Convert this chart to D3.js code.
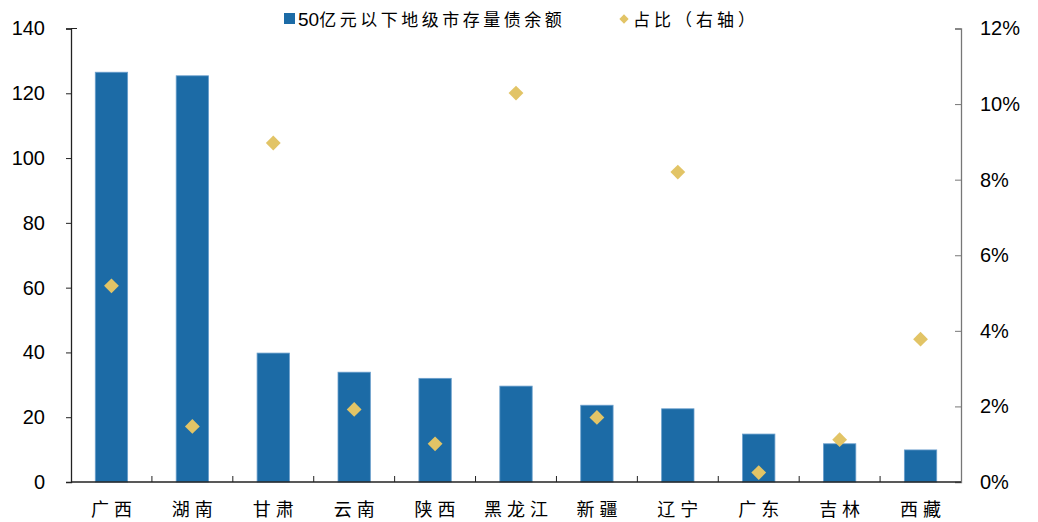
<!DOCTYPE html>
<html>
<head>
<meta charset="utf-8">
<script src="https://cdn.jsdelivr.net/npm/d3@7"></script>
<style>
  html, body { margin: 0; padding: 0; background: #fff; }
  svg { display: block; }
  .num { font-family: "Liberation Sans", Arial, sans-serif; font-size: 20px; fill: #000; }
  .cjk { font-family: "Noto Sans CJK SC", sans-serif; font-size: 18px; fill: #000; }
</style>
</head>
<body>
<svg id="chart" width="1038" height="522"></svg>
<script>
// Provinces
const categories = ["广西", "湖南", "甘肃", "云南", "陕西", "黑龙江", "新疆", "辽宁", "广东", "吉林", "西藏"];
// Outstanding debt of prefecture-level cities under 5 bn yuan (亿元)
const debtValues = [126.5, 125.4, 39.8, 33.9, 32.0, 29.6, 23.7, 22.6, 14.8, 11.8, 9.9];
// Share, in percent (right axis)
const shareValues = [5.19, 1.47, 8.97, 1.92, 1.01, 10.29, 1.71, 8.2, 0.25, 1.12, 3.78];

const leftTicks = [0, 20, 40, 60, 80, 100, 120, 140];
const rightTicks = [0, 2, 4, 6, 8, 10, 12];
const seriesNames = ["50亿元以下地级市存量债余额", "占比（右轴）"];

const barColor = "#1c6ba6";
const barEdge = "#6a9fcc";
const dotColor = "#e2c466";

const svg = d3.select("#chart");
const m = { left: 71, right: 961, top: 28.5, bottom: 482 };

const x = d3.scaleBand().domain(categories).range([m.left, m.right]).paddingInner(0.6).paddingOuter(0.3);
const xOuter = d3.scaleBand().domain(categories).range([m.left, m.right]);
const yL = d3.scaleLinear().domain([0, 140]).range([m.bottom, m.top]);
const yR = d3.scaleLinear().domain([0, 12]).range([m.bottom, m.top]);

// Bars
svg.append("g").selectAll("rect").data(categories).join("rect")
  .attr("x", d => x(d))
  .attr("width", x.bandwidth())
  .attr("y", (d, i) => yL(debtValues[i]))
  .attr("height", (d, i) => yL(0) - yL(debtValues[i]))
  .attr("fill", barColor)
  .attr("stroke", barEdge)
  .attr("stroke-width", 0.8);

// Left axis
const gl = svg.append("g").attr("transform", `translate(${m.left},0)`)
  .call(d3.axisLeft(yL).tickValues(leftTicks).tickSize(5).tickPadding(21).tickFormat(d3.format("d")));
gl.select(".domain").attr("stroke", "#222").attr("stroke-width", 1.3);
gl.selectAll(".tick line").attr("stroke", "#222");
gl.selectAll(".tick text").attr("class", "num").attr("font-family", null).attr("font-size", null);
gl.append("line").attr("x1", 0).attr("x2", 6).attr("y1", yL(140)).attr("y2", yL(140)).attr("stroke", "#222");

// Right axis
const gr = svg.append("g").attr("transform", `translate(${m.right},0)`)
  .call(d3.axisRight(yR).tickValues(rightTicks).tickSize(-6).tickPadding(19).tickFormat(d => d + "%"));
gr.select(".domain").attr("stroke", "#777").attr("stroke-width", 1.3);
gr.selectAll(".tick line").attr("stroke", "#777");
gr.selectAll(".tick text").attr("class", "num").attr("font-family", null).attr("font-size", null);

// Category axis
const gx = svg.append("g").attr("transform", `translate(0,${m.bottom})`);
gx.append("line").attr("x1", m.left).attr("x2", m.right).attr("stroke", "#222").attr("stroke-width", 1.3);
gx.selectAll("line.sep").data(categories.slice(1)).join("line")
  .attr("class", "sep")
  .attr("x1", d => xOuter(d)).attr("x2", d => xOuter(d))
  .attr("y1", 0).attr("y2", -6).attr("stroke", "#222");
const labelSpacing = 5;
gx.selectAll("text").data(categories).join("text")
  .attr("class", "cjk")
  .attr("x", d => x(d) + x.bandwidth() / 2 + labelSpacing / 2)
  .attr("y", 34)
  .attr("text-anchor", "middle")
  .style("letter-spacing", labelSpacing + "px")
  .text(d => d);

// Share markers
const diamond = d3.symbol().type(d3.symbolDiamond2).size(140);
svg.append("g").selectAll("path").data(categories).join("path")
  .attr("transform", (d, i) => `translate(${x(d) + x.bandwidth() / 2},${yR(shareValues[i])})`)
  .attr("d", diamond)
  .attr("fill", dotColor);

// Legend
const lg = svg.append("g");
lg.append("rect").attr("x", 284).attr("y", 13).attr("width", 11).attr("height", 11).attr("fill", barColor);
const t1 = lg.append("text").attr("class", "cjk").attr("x", 298).attr("y", 25.5).style("font-size", "17px");
const digits = seriesNames[0].match(/^\d+/)[0];
t1.append("tspan").attr("class", "num").style("font-size", "19px").text(digits);
t1.append("tspan").style("letter-spacing", "3.5px").text(seriesNames[0].slice(digits.length));
lg.append("path").attr("transform", "translate(624,19)").attr("d", d3.symbol().type(d3.symbolDiamond2).size(55)).attr("fill", dotColor);
lg.append("text").attr("class", "cjk").attr("x", 633).attr("y", 25.5)
  .style("font-size", "17px").style("letter-spacing", "4px").text(seriesNames[1]);
</script>
</body>
</html>
